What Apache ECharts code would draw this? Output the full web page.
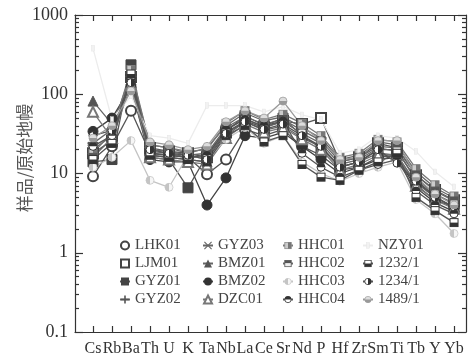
<!DOCTYPE html>
<html>
<head>
<meta charset="utf-8">
<script src="https://cdn.jsdelivr.net/npm/echarts@6/dist/echarts.min.js"></script>
<style>
  html, body { margin: 0; padding: 0; background: #fff; }
  #chart { width: 474px; height: 360px; }
</style>
</head>
<body>
<div id="chart"></div>
<script>
// elements along the x axis
const cats = ["Cs", "Rb", "Ba", "Th", "U", "K", "Ta", "Nb", "La", "Ce", "Sr", "Nd", "P", "Hf", "Zr", "Sm", "Ti", "Tb", "Y", "Yb"];
const yTicks = [0.1, 1, 10, 100, 1000];

// sample / primitive mantle values
const lhk01 = [9.2, 22, 62, 18, 17, 16, 9.8, 15, 36, 30, 36, 22, 17, 11, 12, 16, 17, 7.2, 4.6, 3.8];
const ljm01 = [18, 26, 165, 21, 19, 18, 16, 33, 46, 38, 46, 42, 50, 14, 16, 24, 21, 9.5, 6.2, 4.6];
const gyz01 = [14, 15, 235, 16, 15, 6.6, 17, 34, 54, 40, 50, 30, 21, 12, 14, 20, 20, 8.2, 5.2, 3.6];
const gyz02 = [24, 36, 185, 23, 21, 18, 21, 40, 58, 46, 52, 38, 28, 15, 17, 25, 23, 10.5, 6.6, 4.9];
const gyz03 = [20, 30, 150, 19, 18, 16, 16, 35, 50, 38, 45, 32, 24, 13, 15, 21, 19, 8.6, 5.5, 4.2];
const bmz01 = [82, 42, 140, 17, 16, 15, 14, 30, 45, 35, 40, 28, 22, 12, 14, 18, 17, 7.6, 5.0, 3.8];
const bmz02 = [34, 50, 125, 15, 14, 14, 4.0, 8.8, 30, 28, 33, 22, 15, 10, 12, 15, 16, 6.6, 4.3, 3.3];
const dzc01 = [60, 28, 130, 16, 15, 14, 13, 28, 42, 33, 38, 27, 20, 11, 13, 17, 17, 7.0, 4.6, 3.6];
const hhc01 = [18, 33, 205, 23, 21, 19, 20, 43, 62, 48, 56, 43, 30, 16, 18, 27, 25, 11.5, 7.2, 5.2];
const hhc02 = [16, 28, 175, 20, 19, 17, 18, 38, 52, 42, 48, 35, 26, 14, 16, 22, 21, 9.6, 6.0, 4.5];
const hhc03 = [12, 16, 26, 8.2, 6.7, 17, 15, 27, 38, 24, 30, 14, 10, 8.0, 10, 12, 14, 4.7, 3.1, 1.75];
const hhc04 = [22, 30, 160, 18, 17, 16, 17, 36, 48, 40, 46, 18, 12, 9.0, 11, 13, 15, 6.0, 4.0, 3.1];
const nzy01 = [380, 48, 95, 30, 28, 24, 72, 72, 72, 60, 70, 55, 48, 18, 20, 30, 28, 19, 10.5, 6.8];
const s1232 = [15, 24, 180, 17, 16, 15, 14, 30, 40, 25, 30, 13, 9.0, 8.2, 11, 14, 18, 5.0, 3.4, 2.4];
const s1234 = [30, 35, 140, 20, 18, 17, 15, 32, 45, 36, 42, 30, 22, 12, 14, 20, 13.5, 8.0, 5.0, 3.8];
const s1489 = [28, 40, 110, 25, 23, 20, 22, 45, 62, 50, 82, 40, 26, 15, 16, 26, 26, 9.0, 5.5, 4.0];

// half filled markers as small svg images
function icon(body) {
  return "image://data:image/svg+xml;charset=utf-8," + encodeURIComponent(
    '<svg xmlns="http://www.w3.org/2000/svg" width="20" height="20" viewBox="0 0 20 20">' + body + "</svg>");
}
const sym = {
  hhc01: icon('<rect x="2" y="2" width="16" height="16" fill="#ccc" stroke="#888" stroke-width="2"/><rect x="10" y="2" width="8" height="16" fill="#777"/>'),
  hhc02: icon('<rect x="2" y="2" width="16" height="16" fill="#eee" stroke="#555" stroke-width="2"/><rect x="2" y="2" width="16" height="7" fill="#555"/>'),
  hhc03: icon('<circle cx="10" cy="10" r="8" fill="#f6f6f6" stroke="#c4c4c4" stroke-width="1.5"/><path d="M10 2 A8 8 0 0 0 10 18 Z" fill="#c4c4c4"/>'),
  hhc04: icon('<circle cx="10" cy="10" r="8" fill="#fff" stroke="#333" stroke-width="2"/><path d="M2 10 A8 8 0 0 1 18 10 Z" fill="#333"/>'),
  nzy01: icon('<rect x="6" y="3" width="8" height="14" fill="#f2f2f2" stroke="#e2e2e2" stroke-width="1"/>'),
  s1232: icon('<rect x="2" y="2" width="16" height="16" fill="#fff" stroke="#333" stroke-width="2"/><rect x="2" y="10" width="16" height="8" fill="#333"/>'),
  s1234: icon('<circle cx="10" cy="10" r="8" fill="#fff" stroke="#333" stroke-width="2"/><path d="M10 2 A8 8 0 0 1 10 18 Z" fill="#333"/>'),
  s1489: icon('<circle cx="10" cy="10" r="8" fill="#ddd" stroke="#999" stroke-width="1.5"/><path d="M2 10 A8 8 0 0 0 18 10 Z" fill="#999"/>')
};
const plusPath = "path://M4,0H6V4H10V6H6V10H4V6H0V4H4Z";
const crossPath = "path://M1,0L5,4L9,0L10,1L6,5L10,9L9,10L5,6L1,10L0,9L4,5L0,1Z";

const myChart = echarts.init(document.getElementById("chart"));

const idx = cats.map((c, i) => i);
const minorVals = [];
for (let n = -1; n < 3; n++) {
  for (let k = 2; k <= 9; k++) minorVals.push(n + Math.log10(k));
}

function line(name, values, symbol, color, lineColor, size) {
  return {
    name: name,
    type: "line",
    data: values.map((v, i) => [i, v]),
    symbol: symbol,
    symbolSize: size || 10,
    showSymbol: true,
    itemStyle: { color: color, borderColor: color },
    lineStyle: { color: lineColor, width: 1.3 },
    emphasis: { disabled: true },
    z: 3
  };
}

const series = [
  line("LHK01", lhk01, "emptyCircle", "#444", "#555"),
  line("LJM01", ljm01, "emptyRect", "#444", "#555"),
  line("GYZ01", gyz01, "rect", "#444", "#555"),
  line("GYZ02", gyz02, plusPath, "#555", "#666"),
  line("GYZ03", gyz03, crossPath, "#666", "#666"),
  line("BMZ01", bmz01, "triangle", "#555", "#666"),
  line("BMZ02", bmz02, "circle", "#333", "#444"),
  line("DZC01", dzc01, "emptyTriangle", "#777", "#777"),
  line("HHC01", hhc01, sym.hhc01, "#888", "#777"),
  line("HHC02", hhc02, sym.hhc02, "#555", "#666"),
  line("HHC03", hhc03, sym.hhc03, "#c4c4c4", "#c4c4c4"),
  line("HHC04", hhc04, sym.hhc04, "#333", "#555"),
  line("NZY01", nzy01, sym.nzy01, "#e4e4e4", "#ececec", 8),
  line("1232/1", s1232, sym.s1232, "#333", "#555"),
  line("1234/1", s1234, sym.s1234, "#333", "#555"),
  line("1489/1", s1489, sym.s1489, "#999", "#999")
];

const names = series.map(s => s.name);
const legendCols = [
  { left: 114, data: names.slice(0, 4) },
  { left: 197, data: names.slice(4, 8) },
  { left: 277, data: names.slice(8, 12) },
  { left: 357, data: names.slice(12, 16) }
];

const serif = "'Liberation Serif', 'DejaVu Serif', serif";
const axisLineStyle = { color: "#333", width: 1.2 };

const option = {
  animation: false,
  backgroundColor: "#fff",
  grid: { left: 75, right: 8, top: 15, bottom: 28 },
  legend: legendCols.map(c => ({
    left: c.left,
    top: 233,
    orient: "vertical",
    data: c.data,
    itemWidth: 10,
    itemHeight: 10,
    itemGap: 3,
    selectedMode: false,
    textStyle: { fontFamily: serif, fontSize: 15, color: "#444", lineHeight: 15 }
  })),
  graphic: [
    {
      type: "text",
      x: 25,
      y: 158,
      rotation: Math.PI / 2,
      style: {
        text: "样品/原始地幔",
        font: "17px 'Noto Sans CJK SC'",
        fill: "#555",
        textAlign: "center",
        textVerticalAlign: "middle"
      }
    }
  ],
  xAxis: [
    {
      type: "value",
      min: -0.947,
      max: 19.63,
      position: "bottom",
      axisLine: { onZero: false, lineStyle: axisLineStyle },
      axisTick: { inside: true, length: 6, customValues: idx, lineStyle: axisLineStyle },
      axisLabel: {
        customValues: idx,
        formatter: v => cats[v] || "",
        fontFamily: serif,
        fontSize: 16,
        color: "#333",
        margin: 9
      },
      splitLine: { show: false }
    },
    {
      type: "value",
      min: -0.947,
      max: 19.63,
      position: "top",
      axisLine: { onZero: false, lineStyle: axisLineStyle },
      axisTick: { inside: true, length: 6, customValues: idx, lineStyle: axisLineStyle },
      axisLabel: { show: false },
      splitLine: { show: false }
    }
  ],
  yAxis: [
    {
      type: "log",
      logBase: 10,
      min: 0.1,
      max: 1000,
      position: "left",
      axisLine: { show: true, onZero: false, lineStyle: axisLineStyle },
      axisTick: { inside: true, length: 8, lineStyle: axisLineStyle },
      axisLabel: {
        customValues: yTicks,
        formatter: v => String(v),
        fontFamily: serif,
        fontSize: 18,
        color: "#333",
        margin: 7
      },
      splitLine: { show: false }
    },
    {
      type: "log",
      logBase: 10,
      min: 0.1,
      max: 1000,
      position: "right",
      axisLine: { show: true, onZero: false, lineStyle: axisLineStyle },
      axisTick: { inside: true, length: 8, lineStyle: axisLineStyle },
      axisLabel: { show: false },
      splitLine: { show: false }
    },
    {
      type: "value",
      min: -1,
      max: 3,
      position: "left",
      axisLine: { show: false, onZero: false },
      axisTick: { inside: true, length: 4, customValues: minorVals, lineStyle: axisLineStyle },
      axisLabel: { show: false },
      splitLine: { show: false }
    },
    {
      type: "value",
      min: -1,
      max: 3,
      position: "right",
      axisLine: { show: false, onZero: false },
      axisTick: { inside: true, length: 4, customValues: minorVals, lineStyle: axisLineStyle },
      axisLabel: { show: false },
      splitLine: { show: false }
    }
  ],
  series: series
};

myChart.setOption(option);
</script>
</body>
</html>
